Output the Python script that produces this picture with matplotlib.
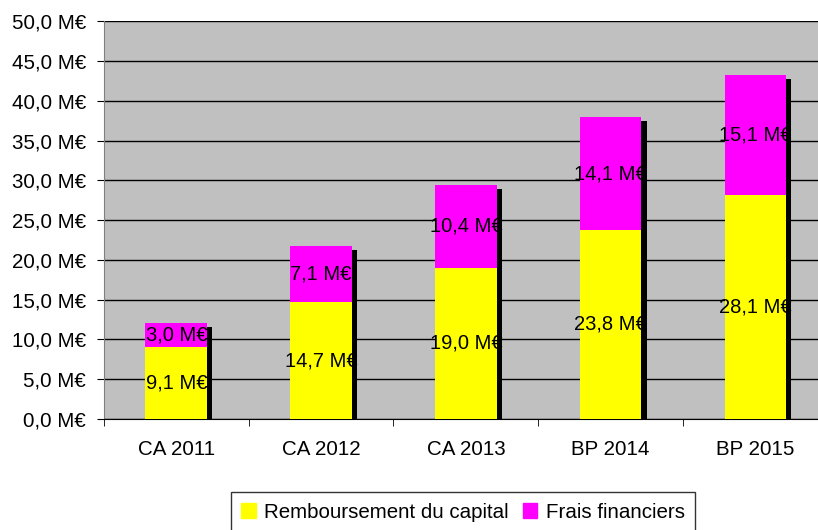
import numpy as np
import matplotlib.pyplot as plt

plt.rcParams['font.family'] = ['Liberation Sans', 'DejaVu Sans']

categories = ['CA 2011', 'CA 2012', 'CA 2013', 'BP 2014', 'BP 2015']
capital = [9.1, 14.7, 19.0, 23.8, 28.1]
frais = [3.0, 7.1, 10.4, 14.1, 15.1]
yticks = np.arange(0, 51, 5)


def fmt(v):
    return f"{v:.1f}".replace('.', ',') + " M€"


fig = plt.figure(figsize=(8.18, 5.30), dpi=100)
# the plot area runs a little past the right edge of the picture
ax = fig.add_axes([0.127, 0.2094, 0.885, 0.7506])
ax.set_facecolor('#C0C0C0')

x = np.arange(len(categories))
capital = np.array(capital)
frais = np.array(frais)
total = capital + frais
w = 0.426

# shadow behind the stacks
ax.bar(x + 0.035, total - 0.5, w, color='black', zorder=2)
ax.bar(x, capital, w, color='#FFFF00', zorder=3)
ax.bar(x, frais, w, bottom=capital, color='#FF00FF', zorder=3)

for i in range(len(x)):
    ax.text(x[i], capital[i] / 2, fmt(capital[i]), ha='center', va='center',
            fontsize=14.5, zorder=5)
    ax.text(x[i], capital[i] + frais[i] / 2, fmt(frais[i]), ha='center',
            va='center', fontsize=14.5, zorder=5)

ax.set_xlim(-0.5, len(x) - 0.5)
ax.set_ylim(0, 50)
ax.set_yticks(yticks)
ax.set_yticklabels([fmt(v) for v in yticks], fontsize=14.8)
ax.yaxis.grid(True, color='black', linewidth=1)
ax.set_axisbelow(True)

ax.set_xticks(x)
ax.set_xticklabels(categories, fontsize=14.8)
ax.tick_params(axis='x', length=0, pad=15)
ax.set_xticks(np.arange(len(x) + 1) - 0.5, minor=True)
ax.tick_params(axis='x', which='minor', length=5, color='black')
ax.tick_params(axis='y', length=5, color='black', pad=8)

for s in ['top', 'right']:
    ax.spines[s].set_visible(False)
ax.spines['left'].set_color('#808080')
ax.spines['bottom'].set_color('black')

h1 = plt.Rectangle((0, 0), 1, 1, color='#FFFF00')
h2 = plt.Rectangle((0, 0), 1, 1, color='#FF00FF')
leg = fig.legend([h1, h2], ['Remboursement du capital', 'Frais financiers'],
                 loc='upper center', bbox_to_anchor=(0.566, 0.071), ncol=2,
                 fontsize=14.8, frameon=True, fancybox=False, edgecolor='black',
                 handlelength=0.7, handleheight=0.7, handletextpad=0.4,
                 columnspacing=0.7, borderaxespad=0, borderpad=0.5)
leg.get_frame().set_linewidth(1)

fig.savefig('out.png', dpi=100)
